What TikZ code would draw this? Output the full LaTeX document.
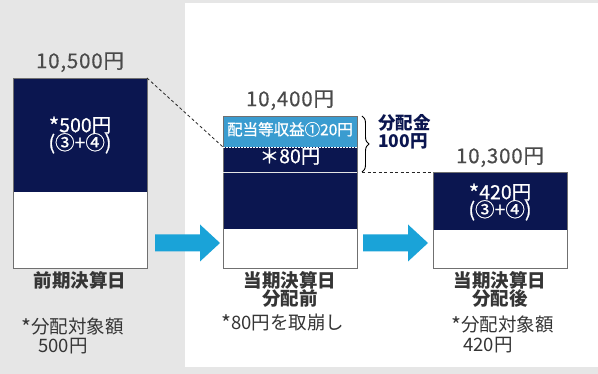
\documentclass[tikz,border=0pt]{standalone}
\usepackage{fontspec}
\setmainfont{Noto Sans CJK JP}
\newfontfamily\medfont[FakeBold=0.7]{Noto Sans CJK JP}
\newfontfamily\widefont[FakeBold=0.4,LetterSpace=4]{Noto Sans CJK JP}
\usetikzlibrary{decorations.pathreplacing,calc}
\definecolor{navy}{HTML}{0B1650}
\definecolor{lblue}{HTML}{3A9CD0}
\definecolor{arrblue}{HTML}{1AA3D8}
\definecolor{bggray}{HTML}{E6E6E6}
\definecolor{txtgray}{HTML}{4A4A4A}
\definecolor{dtxt}{HTML}{353535}
\definecolor{edge}{HTML}{707070}
\newcommand\astk{\raisebox{-0.12em}{\scalebox{1.15}{*}}}
\tikzset{
  tight/.style={inner sep=0pt, text height=0.7em, text depth=0.06em},
  part/.style={anchor=north west, inner sep=0pt, outer sep=0pt, minimum width=134pt},
  navypart/.style={part, fill=navy},
  whitepart/.style={part, fill=white},
  boxedge/.style={draw=edge, line width=0.8pt},
  amount/.style={tight, text=txtgray, font=\widefont\fontsize{20.5}{21}\selectfont},
  intext/.style={tight, text=white, font=\medfont\fontsize{19.5}{17}\selectfont},
  datelabel/.style={tight, text=dtxt, font=\bfseries\fontsize{18.5}{18}\selectfont},
  note/.style={tight, text=dtxt, font=\fontsize{18.5}{19}\selectfont, anchor=west},
  connector/.style={draw=black!85, line width=0.8pt, dash pattern=on 3pt off 2.5pt},
  bigarrow/.style={fill=arrblue}
}
\begin{document}
\begin{tikzpicture}[x=1pt,y=-1pt]
\path[use as bounding box] (0,0) rectangle (598,374);
\fill[bggray] (0,0) rectangle (598,374);
\fill[white] (185,3) rectangle (598,367);

% Box 1
\node[navypart, minimum height=114pt] (b1n) at (13,78) {};
\node[whitepart, minimum height=76pt] (b1w) at (13,192) {};
\draw[boxedge] (b1n.north west) rectangle (b1w.south east);
\node[amount] (t1) at (80,65) {10,500円};
\node[intext] (i1a) at (80,129) {\astk{}500円};
\node[intext] (i1b) at (80,146.5) {(③+④)};

% Box 2
\node[part, fill=lblue, minimum height=31pt] (b2a) at (223,116) {};
\node[navypart, minimum height=25pt] (b2b) at (223,147) {};
\node[navypart, minimum height=57pt] (b2c) at (223,172) {};
\node[whitepart, minimum height=39pt] (b2d) at (223,229) {};
\draw[boxedge] (b2a.north west) rectangle (b2d.south east);
\draw[white, line width=0.8pt, dash pattern=on 1.5pt off 1.5pt] (b2b.north west) -- (b2b.north east);
\draw[white!80!gray, line width=0.9pt] (b2c.north west) -- (b2c.north east);
\node[amount] (t2) at (290,103) {10,400円};
\node[intext, font=\medfont\fontsize{15.5}{17}\selectfont] (i2a) at (290,132) {配当等収益①20円};
\node[intext] (i2b) at (290,160) {＊80円};

% Box 3
\node[navypart, minimum height=58pt] (b3n) at (433,172) {};
\node[whitepart, minimum height=38pt] (b3w) at (433,230) {};
\draw[boxedge] (b3n.north west) rectangle (b3w.south east);
\node[amount] (t3) at (500,160) {10,300円};
\node[intext] (i3a) at (500,196) {\astk{}420円};
\node[intext] (i3b) at (500,213.5) {(③+④)};

% brace
\coordinate (brt) at (362,116);
\coordinate (brb) at (362,172);
\draw[decorate, decoration={brace, amplitude=7pt}, line width=0.9pt] (brt) -- (brb);
\node[tight, text=navy, font=\bfseries\fontsize{17.5}{18}\selectfont, anchor=west] (dist1) at (378,126) {分配金};
\node[tight, text=navy, font=\bfseries\fontsize{17.5}{18}\selectfont, anchor=west] (dist2) at (378,144) {100円};

% dashed connectors
\draw[connector] (b1n.north east) -- (b2b.north west);
\draw[connector] (brb) -- (b3n.north west);

% arrows
\coordinate (a1) at (155,243);
\coordinate (a2) at (363,243);
\foreach \a in {a1,a2}{
  \fill[bigarrow] ($(\a)+(0,-8.5)$) -- ++(45,0) -- ++(0,-10) -- ++(20,18.5) -- ++(-20,18.5) -- ++(0,-10) -- ++(-45,0) -- cycle;
}

% labels below
\node[datelabel] (d1) at (80,284.5) {前期決算日};
\node[note] (n1a) at (21,330) {\astk{}分配対象額};
\node[note] (n1b) at (38,349) {500円};

\node[datelabel] (d2a) at (290,284.5) {当期決算日};
\node[datelabel] (d2b) at (290,302) {分配前};
\node[note] (n2) at (221,326) {\astk{}80円を取崩し};

\node[datelabel] (d3a) at (500,284.5) {当期決算日};
\node[datelabel] (d3b) at (500,302) {分配後};
\node[note] (n3a) at (451,328) {\astk{}分配対象額};
\node[note] (n3b) at (463,348) {420円};
\end{tikzpicture}
\end{document}
